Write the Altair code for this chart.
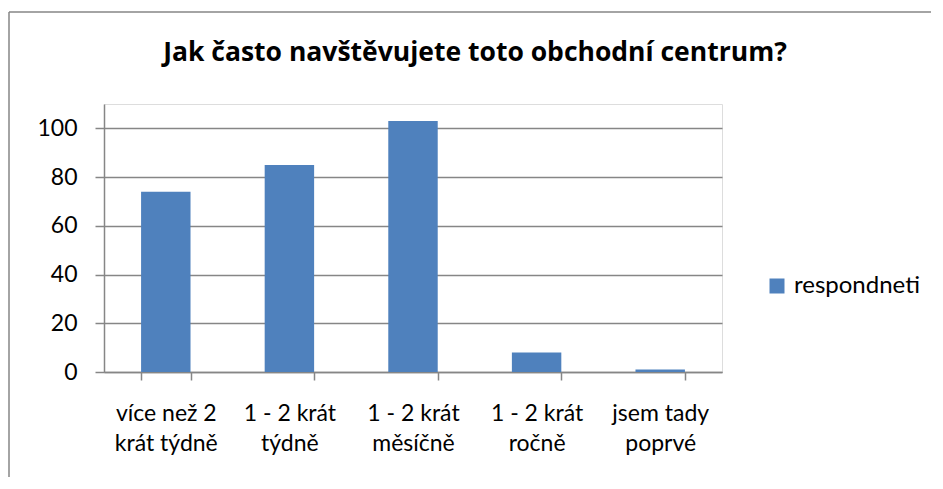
import altair as alt
import pandas as pd

categories = ["více než 2\nkrát týdně", "1 - 2 krát\ntýdně", "1 - 2 krát\nměsíčně", "1 - 2 krát\nročně", "jsem tady\npoprvé"]
values = [74, 85, 103, 8, 1]
series = "respondneti"
title_text = "Jak často navštěvujete toto obchodní centrum?"
y_ticks = [0, 20, 40, 60, 80, 100]

df = pd.DataFrame({"cat": categories, "val": values, "series": [series] * len(values)})

FONT = "Lato"
GRAY = "#868686"

bars = alt.Chart(df).mark_bar(color="#4F81BD").encode(
    x=alt.X("cat:N", sort=categories, title=None,
            scale=alt.Scale(paddingInner=0.6, paddingOuter=0.3),
            axis=alt.Axis(labelAngle=0, labelExpr="split(datum.label, '\\n')",
                          labelFontSize=23, labelFont=FONT, labelColor="#000000",
                          labelLineHeight=30, labelPadding=22,
                          tickBand="extent", tickSize=8, tickColor=GRAY, tickWidth=1.5,
                          domainColor=GRAY, domainWidth=1.5, grid=False)),
    y=alt.Y("val:Q", title=None,
            scale=alt.Scale(domain=[0, 110], nice=False),
            axis=alt.Axis(values=y_ticks, labelFontSize=23, labelFont=FONT, labelColor="#000000",
                          labelPadding=18, tickSize=9, tickColor=GRAY, tickWidth=1.5,
                          domainColor=GRAY, domainWidth=1.5,
                          grid=True, gridColor=GRAY, gridWidth=1.5)),
    color=alt.Color("series:N", title=None,
                    scale=alt.Scale(domain=[series], range=["#4F81BD"]),
                    legend=alt.Legend(orient="none", legendX=661, legendY=170,
                                      symbolType="square", symbolSize=225, symbolStrokeWidth=0,
                                      labelFontSize=24, labelFont=FONT, labelColor="#000000",
                                      labelOffset=5)),
)

title = alt.Chart(pd.DataFrame({"t": [title_text]})).mark_text(
    font="Open Sans", fontSize=26.5, fontWeight="bold", color="#000000", align="center", baseline="alphabetic"
).encode(x=alt.value(371), y=alt.value(-43), text="t:N")

border_top = alt.Chart(pd.DataFrame({"a": [0]})).mark_rule(color=GRAY, strokeWidth=1.5).encode(
    x=alt.value(-95), x2=alt.value(835), y=alt.value(-92))
border_left = alt.Chart(pd.DataFrame({"a": [0]})).mark_rule(color=GRAY, strokeWidth=1.5).encode(
    x=alt.value(-95), y=alt.value(-92), y2=alt.value(390))

chart = alt.layer(bars, title, border_top, border_left).properties(
    width=618, height=268,
    autosize=alt.AutoSizeParams(type="none"),
    padding={"left": 96, "top": 96, "right": 209, "bottom": 105},
).configure_view(stroke=None).configure(background="white")

chart.save("out.html", embed_options={"renderer": "svg", "actions": False})
